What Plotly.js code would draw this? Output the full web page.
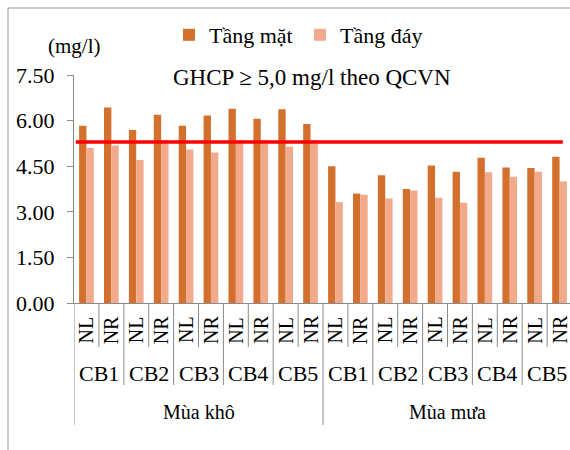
<!DOCTYPE html>
<html>
<head>
<meta charset="utf-8">
<script src="https://cdn.plot.ly/plotly-3.0.1.min.js"></script>
<style>
html,body{margin:0;padding:0;overflow:hidden;background:#fff;}
#chart{width:572px;height:450px;}
</style>
</head>
<body>
<div id="chart"></div>
<script>
// ---- data ----
var seasons = ['Mùa khô', 'Mùa mưa'];
var sites = ['CB1', 'CB2', 'CB3', 'CB4', 'CB5'];
var tides = ['NL', 'NR'];
var surfaceValues = [5.83, 6.43, 5.69, 6.19, 5.83, 6.17, 6.39, 6.06, 6.37, 5.89,
                     4.50, 3.60, 4.20, 3.75, 4.52, 4.32, 4.78, 4.46, 4.44, 4.81];
var bottomValues  = [5.10, 5.18, 4.70, 5.35, 5.05, 4.95, 5.35, 5.35, 5.14, 5.35,
                     3.32, 3.56, 3.44, 3.70, 3.46, 3.30, 4.30, 4.15, 4.32, 4.00];
var seriesNames = ['Tầng mặt', 'Tầng đáy'];
var thresholdValue = 5.3;
var thresholdLabel = 'GHCP ≥ 5,0 mg/l theo QCVN';
var unitLabel = '(mg/l)';
var yTicks = [0, 1.5, 3, 4.5, 6, 7.5];

// ---- build categories ----
var cats = [];
seasons.forEach(function (s) {
  sites.forEach(function (c) {
    tides.forEach(function (t) { cats.push(s + '|' + c + '|' + t); });
  });
});

var FONT = 'Times New Roman, Liberation Serif, DejaVu Serif, serif';
var AX = '#8a8a8a';

var traces = [
  {type: 'bar', name: seriesNames[0], x: cats, y: surfaceValues,
   marker: {color: '#D4702D', line: {width: 0}}},
  {type: 'bar', name: seriesNames[1], x: cats, y: bottomValues,
   marker: {color: '#F2AA8C', line: {width: 0}}}
];

function yp(py) { return (303 - py) / 228; }
function xp(px) { return (px - 74) / 498; }

var shapes = [];
var annotations = [];
var n = cats.length;
var perSeason = sites.length * tides.length;

shapes.push({type: 'line', xref: 'x', yref: 'y', x0: -0.43, x1: n - 1 + 0.13,
  y0: thresholdValue, y1: thresholdValue, line: {color: '#FF0000', width: 3.5}, layer: 'above'});

for (var b = 0; b <= n; b++) {
  var bottom;
  if (b % perSeason === 0) bottom = 425;
  else if (b % tides.length === 0) bottom = 385;
  else bottom = 347;
  shapes.push({type: 'line', xref: 'x', yref: 'paper', x0: b - 0.5, x1: b - 0.5,
    y0: 0, y1: yp(bottom), line: {color: AX, width: 1}});
}

shapes.push({type: 'line', xref: 'paper', yref: 'paper', x0: xp(8), x1: xp(8),
  y0: yp(8), y1: yp(452), line: {color: '#9a9a9a', width: 1}});
shapes.push({type: 'line', xref: 'paper', yref: 'paper', x0: xp(8), x1: xp(575),
  y0: yp(8), y1: yp(8), line: {color: '#9a9a9a', width: 1}});

for (var i = 0; i < n; i++) {
  annotations.push({xref: 'x', yref: 'paper', x: i, y: yp(330), text: tides[i % tides.length],
    showarrow: false, textangle: -90, xanchor: 'center', yanchor: 'middle',
    font: {family: FONT, size: 20, color: '#000'}});
}
for (var s = 0; s < seasons.length; s++) {
  for (var c = 0; c < sites.length; c++) {
    var idx = s * perSeason + c * tides.length;
    annotations.push({xref: 'x', yref: 'paper', x: idx + (tides.length - 1) / 2, y: yp(373),
      text: sites[c], showarrow: false, xanchor: 'center', yanchor: 'middle',
      font: {family: FONT, size: 22, color: '#000'}});
  }
  annotations.push({xref: 'x', yref: 'paper', x: s * perSeason + (perSeason - 1) / 2, y: yp(412),
    text: seasons[s], showarrow: false, xanchor: 'center', yanchor: 'middle',
    font: {family: FONT, size: 20, color: '#000'}});
}
annotations.push({xref: 'paper', yref: 'paper', x: xp(74), y: yp(46), text: unitLabel,
  showarrow: false, xanchor: 'center', yanchor: 'middle', font: {family: FONT, size: 21, color: '#000'}});
annotations.push({xref: 'paper', yref: 'paper', x: xp(312), y: yp(77), text: thresholdLabel,
  showarrow: false, xanchor: 'center', yanchor: 'middle', font: {family: FONT, size: 23, color: '#000'}});

var layout = {
  width: 572, height: 450,
  margin: {l: 74, r: 0, t: 75, b: 147, pad: 0},
  paper_bgcolor: '#fff', plot_bgcolor: '#fff',
  barmode: 'group', bargap: 0.41, bargroupgap: 0,
  font: {family: FONT, size: 21, color: '#000'},
  showlegend: true,
  legend: {orientation: 'h', x: xp(300), xanchor: 'center', y: yp(35), yanchor: 'middle',
    font: {family: FONT, size: 22, color: '#000'}, bgcolor: 'rgba(0,0,0,0)', itemwidth: 30,
    entrywidth: 86, entrywidthmode: 'pixels'},
  xaxis: {type: 'category', categoryorder: 'array', categoryarray: cats,
    range: [-0.5, n - 0.5], showticklabels: false, ticks: '',
    showgrid: false, zeroline: false, showline: true, linecolor: AX, linewidth: 1, fixedrange: true},
  yaxis: {range: [0, 7.5], tickvals: yTicks, tickformat: '.2f', ticks: 'outside', ticklen: 6,
    tickcolor: AX, showgrid: false, zeroline: false, showline: true, linecolor: AX, linewidth: 1,
    ticklabelstandoff: 8, tickfont: {family: FONT, size: 22, color: '#000'}, fixedrange: true},
  shapes: shapes,
  annotations: annotations
};

Plotly.newPlot('chart', traces, layout, {staticPlot: true, displayModeBar: false});
</script>
</body>
</html>
